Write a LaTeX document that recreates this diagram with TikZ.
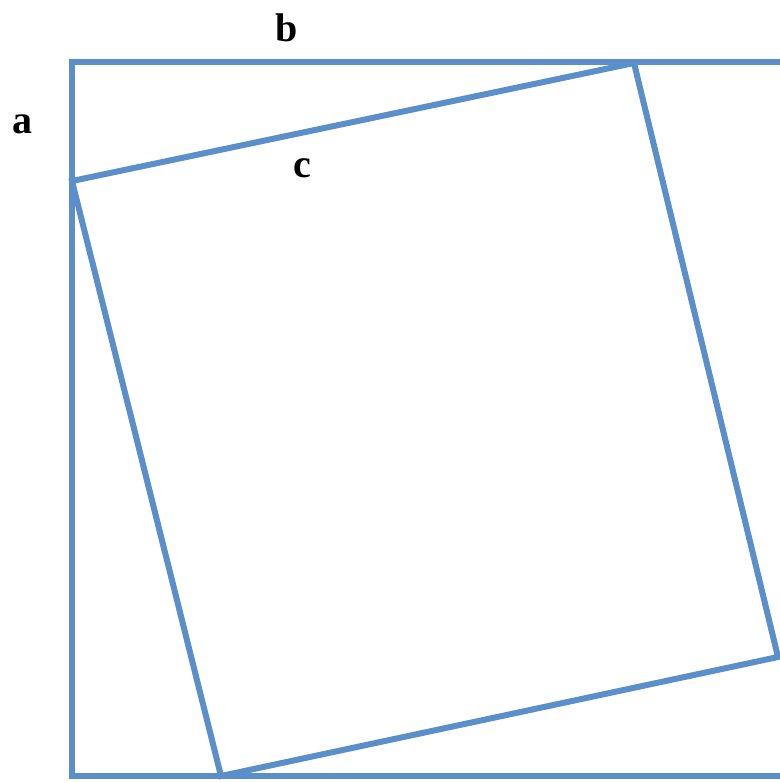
\documentclass[tikz,border=0pt]{standalone}
\usepackage{fontspec}
\setmainfont{Liberation Serif}
\usepackage{tikz}
\usetikzlibrary{calc}
\definecolor{edgeblue}{HTML}{5A8FCA}

\begin{document}
\begin{tikzpicture}[
  x=0.5pt,y=-0.5pt,
  side/.style={draw=edgeblue,line width=3pt,line join=miter},
  lbl/.style={font=\fontsize{20}{24}\selectfont\bfseries,inner sep=0pt}
]
\useasboundingbox (0,0) rectangle (780,783);
% outer square corners
\coordinate (tl) at (72,62);
\coordinate (bl) at (72,776);
\coordinate (tr) at (780,62);
\coordinate (br) at (780,776);
% tilted square corners
\coordinate (p1) at (72,181);
\coordinate (p2) at (634,63);
\coordinate (p3) at (778,657);
\coordinate (p4) at (221,776);
\draw[side] (tr)--(tl)--(bl)--(br);
\draw[side] (p1)--(p2)--(p3)--(p4)--cycle;
\node[lbl] (b) at (287,28) {b};
\node[lbl] (a) at (22,124) {a};
\node[lbl] (c) at (302,168) {c};
\end{tikzpicture}
\end{document}
